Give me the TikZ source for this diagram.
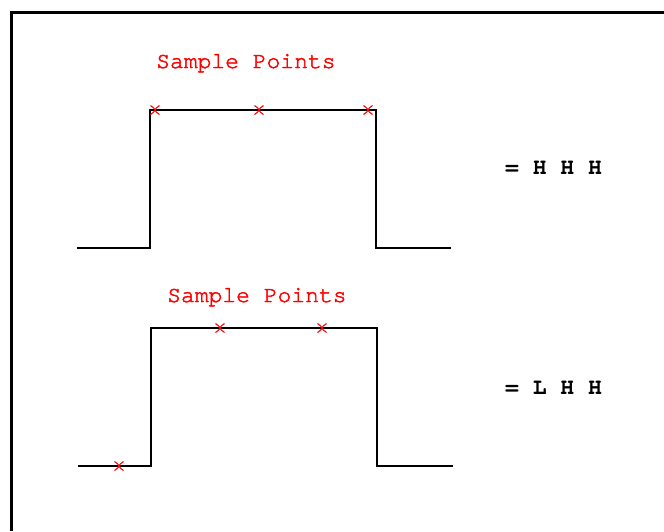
\documentclass[tikz,border=0pt]{standalone}
\usepackage{fontspec}
\newfontfamily\monofont[Extension=.otf,UprightFont=*-regular,BoldFont=*-bold]{texgyrecursor}
\newfontfamily\monomid[Extension=.otf,UprightFont=*-regular,FakeBold=2]{texgyrecursor}
\begin{document}
\begin{tikzpicture}[x=1pt,y=-1pt,
  wave/.style={line width=2pt,line join=miter},
  frame/.style={line width=3pt},
  label/.style={anchor=base west,inner sep=0pt,text=red,font=\monomid\fontsize{23}{23}\selectfont},
  result/.style={anchor=base west,inner sep=0pt,font=\monofont\bfseries\fontsize{23}{23}\selectfont},
  sample/.style={red,line width=1.1pt}]
\useasboundingbox (0,0) rectangle (664,531);
\fill[white] (0,0) rectangle (664,531);
% open frame: top edge and left edge
\coordinate (tl) at (11.5,12.5);
\coordinate (tr) at (664,12.5);
\coordinate (bl) at (11.5,531);
\draw[frame] (tr) -- (tl) -- (bl);

% sample mark (a small ")(" cross)
\tikzset{pics/smark/.style={code={
  \draw[sample] (-4.5,-4.5) .. controls (1.5,0) .. (-4.5,4.5);
  \draw[sample] (4.5,-4.5) .. controls (-1.5,0) .. (4.5,4.5);}}}

% first pulse
\coordinate (a0) at (77,248);
\coordinate (a1) at (150,248);
\coordinate (a2) at (150,110);
\coordinate (a3) at (376,110);
\coordinate (a4) at (376,248);
\coordinate (a5) at (451,248);
\draw[wave] (a0) -- (a1) -- (a2) -- (a3) -- (a4) -- (a5);
\node[label] (lab1) at (156,68) {Sample Points};
\pic at (155,110) {smark};
\pic at (259,110) {smark};
\pic at (368,110) {smark};
\node[result] (res1) at (505,174) {= H H H};

% second pulse
\coordinate (b0) at (78,466);
\coordinate (b1) at (151,466);
\coordinate (b2) at (151,328);
\coordinate (b3) at (377,328);
\coordinate (b4) at (377,466);
\coordinate (b5) at (453,466);
\draw[wave] (b0) -- (b1) -- (b2) -- (b3) -- (b4) -- (b5);
\node[label] (lab2) at (167,302) {Sample Points};
\pic at (119,466) {smark};
\pic at (220,328) {smark};
\pic at (322,328) {smark};
\node[result] (res2) at (505,394) {= L H H};
\end{tikzpicture}
\end{document}
